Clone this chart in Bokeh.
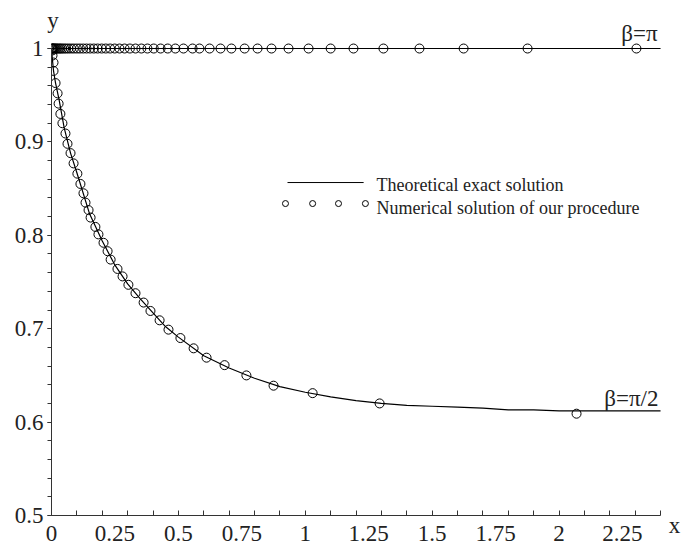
from bokeh.plotting import figure
from bokeh.models import FixedTicker, Label
from bokeh.embed import file_html
from bokeh.resources import INLINE

# ---- data ----
# beta = pi : exact solution y = 1
exact_pi_x = [0.0, 2.4]
exact_pi_y = [1.0, 1.0]
num_pi_x = [0.0, 0.002, 0.004, 0.006, 0.009, 0.012, 0.016, 0.02, 0.025, 0.03, 0.036,
            0.042, 0.05, 0.058, 0.067, 0.077, 0.088, 0.1, 0.112, 0.125, 0.138, 0.152,
            0.167, 0.182, 0.198, 0.214, 0.231, 0.249, 0.268, 0.288, 0.309, 0.331, 0.354,
            0.378, 0.403, 0.43, 0.458, 0.488, 0.52, 0.556, 0.583, 0.623, 0.666, 0.709,
            0.761, 0.812, 0.867, 0.934, 1.013, 1.100, 1.190, 1.308, 1.450, 1.624, 1.876,
            2.305]
num_pi_y = [1.0] * len(num_pi_x)

# beta = pi/2
exact_half_x = [0.0, 0.003, 0.008, 0.016, 0.03, 0.05, 0.075, 0.1, 0.15, 0.2, 0.25, 0.3,
                0.35, 0.4, 0.45, 0.5, 0.6, 0.7, 0.8, 0.9, 1.0, 1.1, 1.2, 1.3, 1.4, 1.5,
                1.6, 1.7, 1.8, 1.9, 2.0, 2.2, 2.4]
exact_half_y = [1.0, 0.99, 0.976, 0.963, 0.945, 0.915, 0.888, 0.867, 0.823, 0.794, 0.768,
                0.748, 0.732, 0.717, 0.702, 0.691, 0.671, 0.658, 0.647, 0.638, 0.632,
                0.627, 0.623, 0.620, 0.618, 0.617, 0.616, 0.615, 0.613, 0.613, 0.612,
                0.612, 0.612]
num_half_x = [0.004, 0.004, 0.008, 0.008, 0.016, 0.024, 0.028, 0.035, 0.043, 0.055, 0.063,
              0.075, 0.087, 0.102, 0.114, 0.126, 0.134, 0.146, 0.154, 0.173, 0.185, 0.205,
              0.221, 0.233, 0.260, 0.280, 0.303, 0.331, 0.363, 0.390, 0.426, 0.461, 0.508,
              0.560, 0.611, 0.682, 0.768, 0.875, 1.029, 1.293, 2.069]
num_half_y = [0.998, 0.9925, 0.985, 0.976, 0.963, 0.952, 0.941, 0.930, 0.920, 0.909, 0.898,
              0.888, 0.877, 0.866, 0.855, 0.845, 0.835, 0.827, 0.819, 0.809, 0.801, 0.792,
              0.783, 0.774, 0.764, 0.756, 0.747, 0.738, 0.728, 0.719, 0.709, 0.699, 0.690,
              0.679, 0.669, 0.661, 0.650, 0.639, 0.631, 0.620, 0.609]

x_ticks = [0, 0.25, 0.5, 0.75, 1, 1.25, 1.5, 1.75, 2, 2.25]
x_tick_labels = ["0", "0.25", "0.5", "0.75", "1", "1.25", "1.5", "1.75", "2", "2.25"]
y_ticks = [0.5, 0.6, 0.7, 0.8, 0.9, 1.0]
y_tick_labels = ["0.5", "0.6", "0.7", "0.8", "0.9", "1"]

FONT = "Liberation Serif"
AX = "#333333"
TXT = "#222222"

p = figure(width=681, height=549, x_range=(0, 2.455), y_range=(0.5, 1.03),
           output_backend="svg", toolbar_location=None,
           min_border_left=51, min_border_right=7, min_border_top=20, min_border_bottom=34)
p.outline_line_color = None
p.xgrid.visible = False
p.ygrid.visible = False
p.background_fill_color = "white"

# x axis
xa = p.xaxis[0]
xa.ticker = FixedTicker(ticks=x_ticks, minor_ticks=[round(0.1 * k, 2) for k in range(0, 25)])
xa.major_label_overrides = dict(zip(x_ticks, x_tick_labels))
xa.bounds = (0, 2.4)
xa.major_tick_in = 0
xa.major_tick_out = 0
xa.minor_tick_in = 5
xa.minor_tick_out = 0
xa.axis_line_color = AX
xa.minor_tick_line_color = AX
xa.major_label_text_font = FONT
xa.major_label_text_font_size = "23px"
xa.major_label_text_color = TXT
xa.major_label_standoff = 10
xa.axis_label = "x"
xa.axis_label_align = "end"
xa.axis_label_standoff = -31
xa.axis_label_text_font = FONT
xa.axis_label_text_font_size = "23px"
xa.axis_label_text_font_style = "normal"
xa.axis_label_text_color = TXT

# y axis
ya = p.yaxis[0]
ya.ticker = FixedTicker(ticks=y_ticks, minor_ticks=[round(0.5 + 0.02 * k, 2) for k in range(0, 26)])
ya.major_label_overrides = dict(zip(y_ticks, y_tick_labels))
ya.bounds = (0.5, 1.0)
ya.major_tick_in = 0
ya.major_tick_out = 4
ya.minor_tick_in = 0
ya.minor_tick_out = 4
ya.axis_line_color = AX
ya.major_tick_line_color = AX
ya.minor_tick_line_color = AX
ya.major_label_text_font = FONT
ya.major_label_text_font_size = "23px"
ya.major_label_text_color = TXT
ya.major_label_standoff = 4
ya.axis_label = "y"
ya.axis_label_orientation = "horizontal"
ya.axis_label_align = "end"
ya.axis_label_standoff = -47
ya.axis_label_text_font = FONT
ya.axis_label_text_font_size = "23px"
ya.axis_label_text_font_style = "normal"
ya.axis_label_text_color = TXT

# curves
p.line(exact_pi_x, exact_pi_y, line_color="black", line_width=1.2)
p.line(exact_half_x, exact_half_y, line_color="black", line_width=1.2)
p.scatter(num_pi_x, num_pi_y, marker="circle", size=9, fill_color=None,
          line_color="black", line_width=1)
p.scatter(num_half_x, num_half_y, marker="circle", size=9, fill_color=None,
          line_color="black", line_width=1)

# legend (drawn manually)
p.line([0.93, 1.23], [0.8565, 0.8565], line_color="black", line_width=1)
p.scatter([0.922, 1.029, 1.131, 1.237], [0.834] * 4, marker="circle", size=6,
          fill_color=None, line_color="black", line_width=1)
p.add_layout(Label(x=1.281, y=0.8535, text="Theoretical exact solution",
                   text_font=FONT, text_font_size="18px", text_color=TXT,
                   text_baseline="alphabetic"))
p.add_layout(Label(x=1.281, y=0.829, text="Numerical solution of our procedure",
                   text_font=FONT, text_font_size="18px", text_color=TXT,
                   text_baseline="alphabetic"))

# curve labels
p.add_layout(Label(x=2.388, y=1.016, text="β=π", text_font=FONT, text_font_size="23px",
                   text_color=TXT, text_align="right", text_baseline="alphabetic"))
p.add_layout(Label(x=2.392, y=0.625, text="β=π/2", text_font=FONT, text_font_size="23px",
                   text_color=TXT, text_align="right", text_baseline="alphabetic"))

open("out.html", "w").write(file_html(p, INLINE))
